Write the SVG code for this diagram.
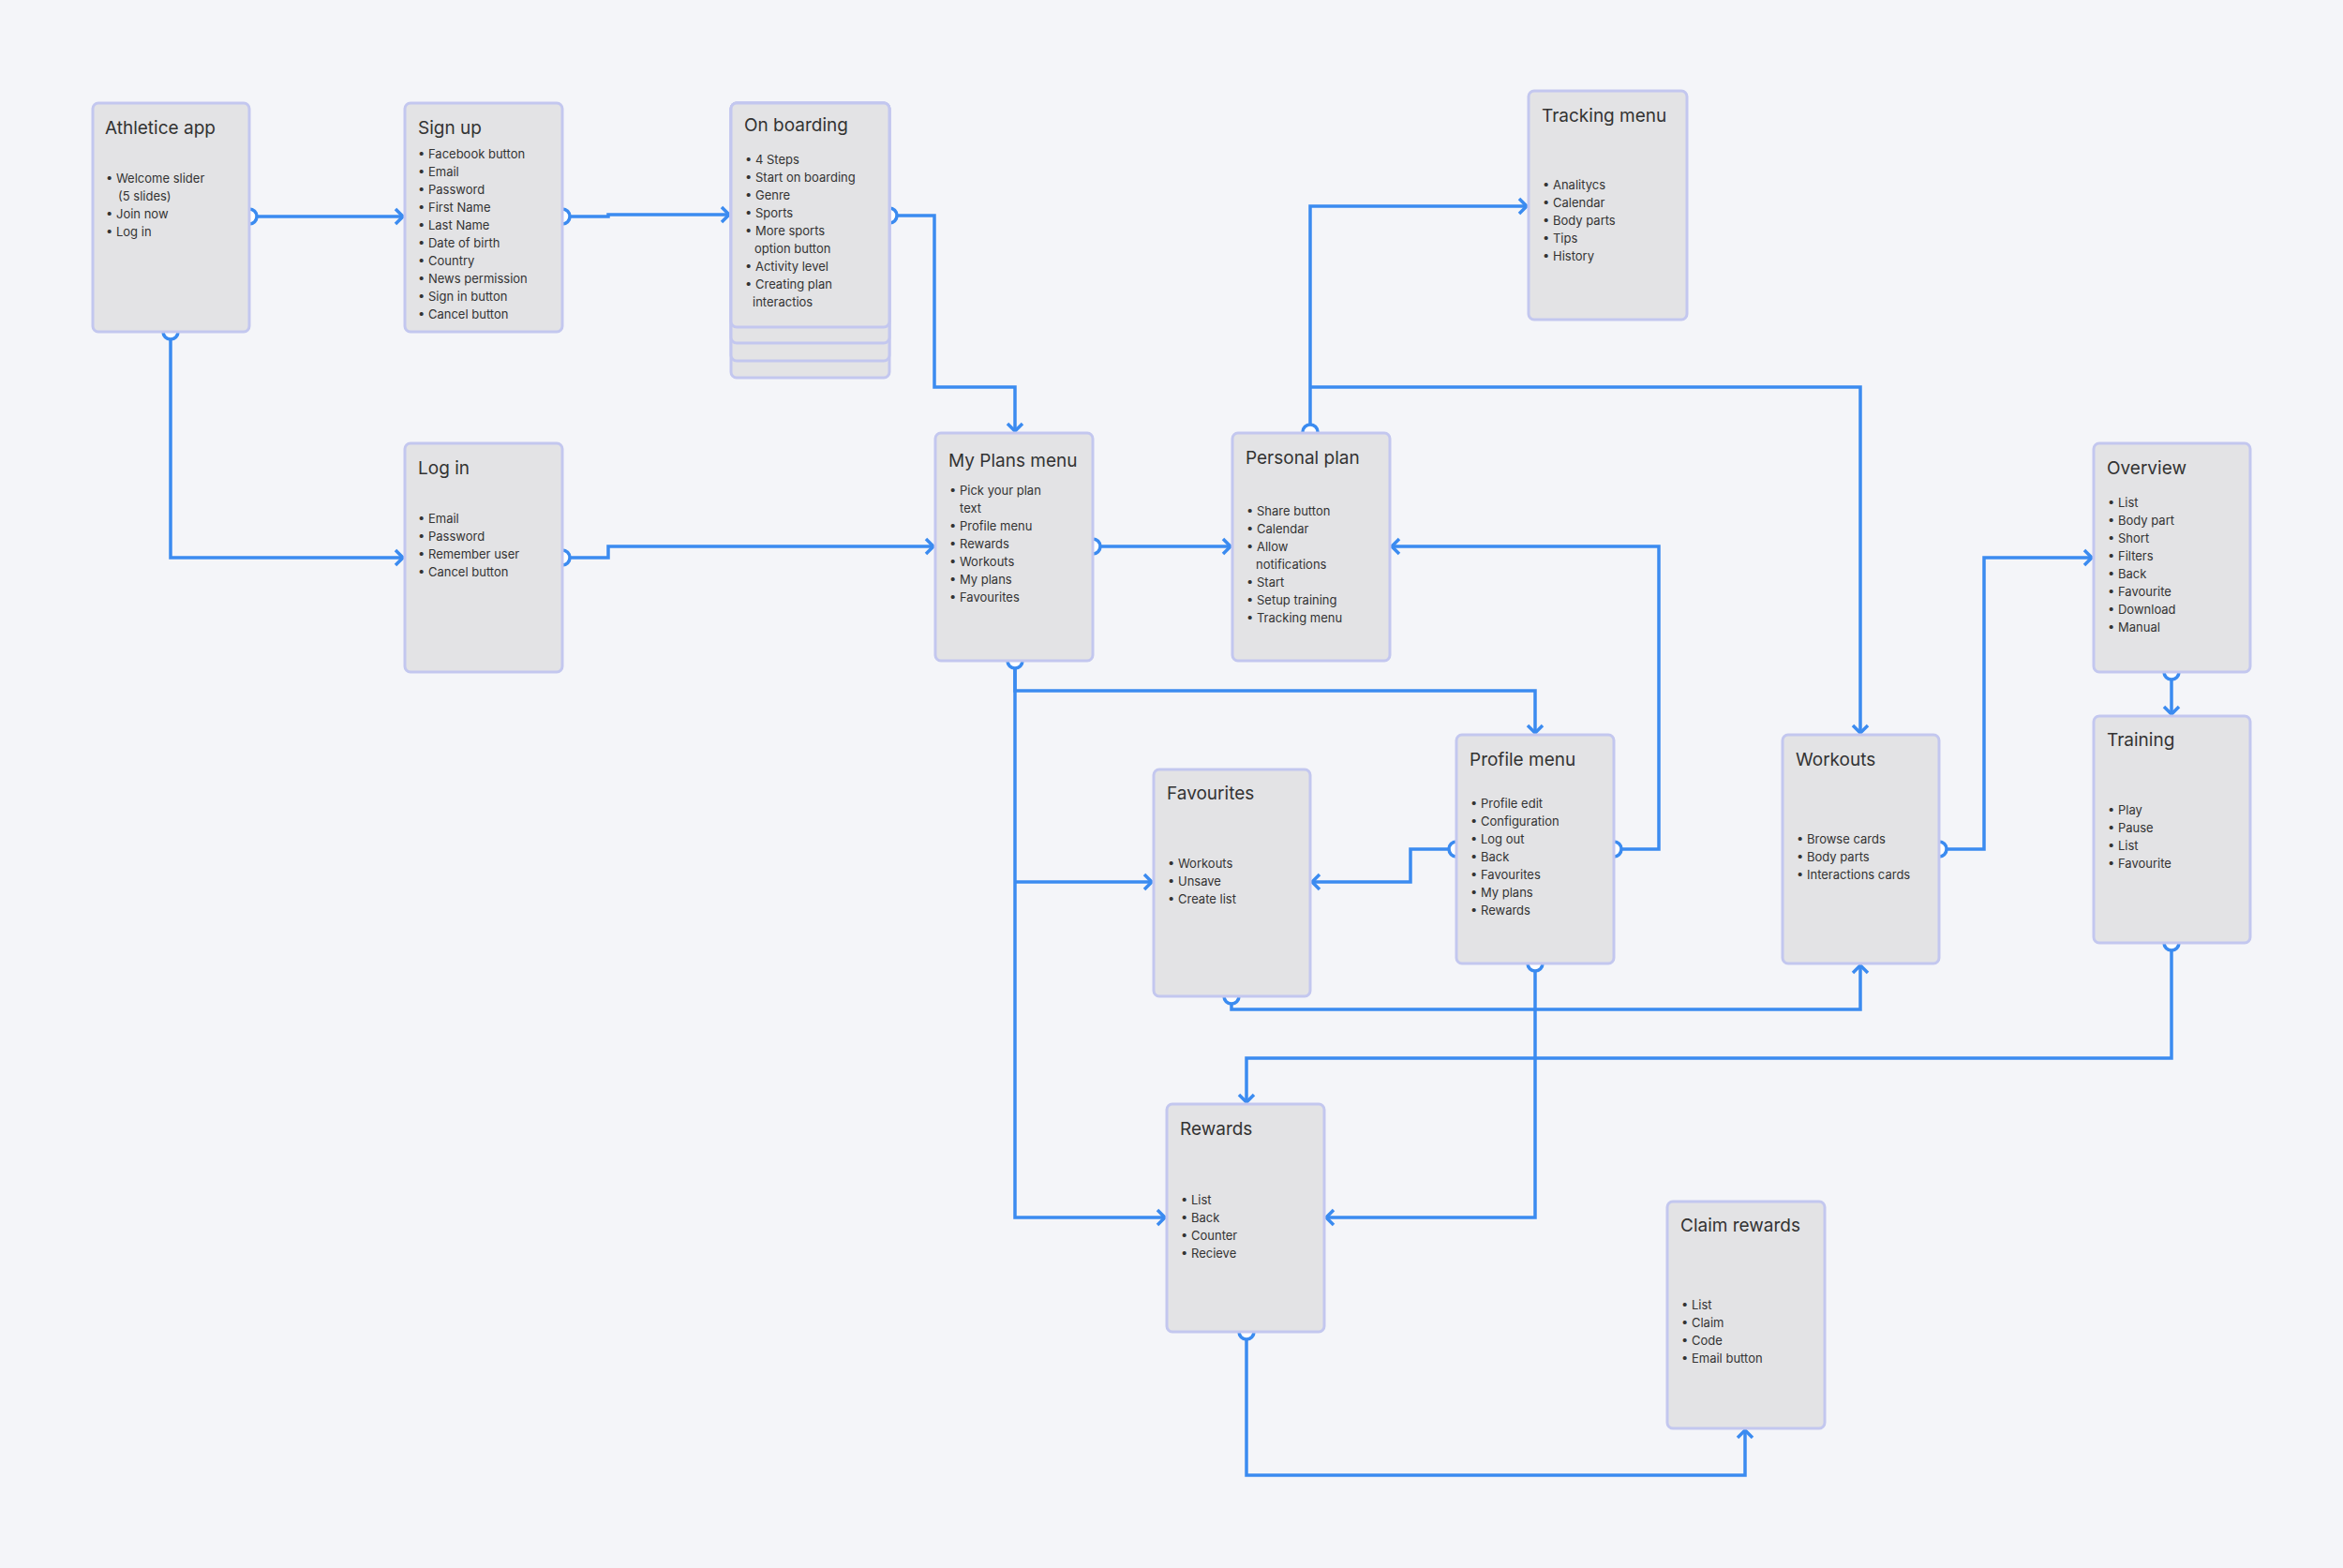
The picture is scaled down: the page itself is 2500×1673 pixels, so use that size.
<svg xmlns="http://www.w3.org/2000/svg" width="2500" height="1673" viewBox="0 0 2500 1673">
<defs>
<style>
.n{fill:#e3e3e5;stroke:#c3c7ef;stroke-width:3}
.t{font-family:Inter,"Liberation Sans",sans-serif;font-size:19px;fill:#333}
.i{font-family:Inter,"Liberation Sans",sans-serif;font-size:13px;fill:#333}
.c{fill:none;stroke:#3b8bf0;stroke-width:3.5;marker-end:url(#a)}
.p{fill:#fff;stroke:#3b8bf0;stroke-width:3.5}
</style>
<marker id="a" markerUnits="userSpaceOnUse" markerWidth="20" markerHeight="20" refX="12" refY="10" orient="auto"><path d="M4,2 L12,10 L4,18" fill="none" stroke="#3b8bf0" stroke-width="3.5"/></marker>
</defs>
<rect width="2500" height="1673" fill="#f4f5f9"/>
<g id="connectors">
<path class="c" d="M266,231 H430"/>
<path class="c" d="M600,231 H649 V229 H778"/>
<path class="c" d="M949,230 H997 V413 H1083 V460"/>
<path class="c" d="M182,354 V595 H430"/>
<path class="c" d="M600,595 H649 V583 H996"/>
<path class="c" d="M1166,583 H1313"/>
<path class="c" d="M1398,461 V220 H1629"/>
<path class="c" d="M1398,413 H1985 V782"/>
<path class="c" d="M1083,705 V737 H1638 V782"/>
<path class="c" d="M1083,705 V1299 H1243"/>
<path class="c" d="M1083,941 H1229"/>
<path class="c" d="M1554,906 H1505 V941 H1400"/>
<path class="c" d="M1722,906 H1770 V583 H1485"/>
<path class="c" d="M1638,1028 V1299 H1415"/>
<path class="c" d="M1314,1063 V1077 H1985 V1030"/>
<path class="c" d="M2069,906 H2117 V595 H2232"/>
<path class="c" d="M2317,717 V762"/>
<path class="c" d="M2317,1006 V1129 H1330 V1176"/>
<path class="c" d="M1330,1421 V1574 H1862 V1526"/>
<circle class="p" cx="266" cy="231" r="8"/>
<circle class="p" cx="600" cy="231" r="8"/>
<circle class="p" cx="949" cy="230" r="8"/>
<circle class="p" cx="182" cy="354" r="8"/>
<circle class="p" cx="600" cy="595" r="8"/>
<circle class="p" cx="1166" cy="583" r="8"/>
<circle class="p" cx="1398" cy="461" r="8"/>
<circle class="p" cx="1083" cy="705" r="8"/>
<circle class="p" cx="1554" cy="906" r="8"/>
<circle class="p" cx="1722" cy="906" r="8"/>
<circle class="p" cx="1638" cy="1028" r="8"/>
<circle class="p" cx="1314" cy="1063" r="8"/>
<circle class="p" cx="2069" cy="906" r="8"/>
<circle class="p" cx="2317" cy="717" r="8"/>
<circle class="p" cx="2317" cy="1006" r="8"/>
<circle class="p" cx="1330" cy="1421" r="8"/>
</g>
<g id="athletice-app"><rect class="n" x="99" y="110" width="167" height="244" rx="6"/>
<text class="t" x="112" y="143">Athletice app</text>
<text class="i" x="113" y="195"><tspan>• Welcome slider</tspan><tspan x="126" dy="19">(5 slides)</tspan><tspan x="113" dy="19">• Join now</tspan><tspan x="113" dy="19">• Log in</tspan></text></g>
<g id="sign-up"><rect class="n" x="432" y="110" width="168" height="244" rx="6"/>
<text class="t" x="446" y="143">Sign up</text>
<text class="i" x="446" y="169"><tspan>• Facebook button</tspan><tspan x="446" dy="19">• Email</tspan><tspan x="446" dy="19">• Password</tspan><tspan x="446" dy="19">• First Name</tspan><tspan x="446" dy="19">• Last Name</tspan><tspan x="446" dy="19">• Date of birth</tspan><tspan x="446" dy="19">• Country</tspan><tspan x="446" dy="19">• News permission</tspan><tspan x="446" dy="19">• Sign in button</tspan><tspan x="446" dy="19">• Cancel button</tspan></text></g>
<g id="on-boarding"><rect class="n" x="780" y="110" width="169" height="293" rx="6"/><rect class="n" x="780" y="110" width="169" height="275" rx="6"/><rect class="n" x="780" y="110" width="169" height="256" rx="6"/><rect class="n" x="780" y="110" width="169" height="239" rx="6"/>
<text class="t" x="794" y="140">On boarding</text>
<text class="i" x="795" y="175"><tspan>• 4 Steps</tspan><tspan x="795" dy="19">• Start on boarding</tspan><tspan x="795" dy="19">• Genre</tspan><tspan x="795" dy="19">• Sports</tspan><tspan x="795" dy="19">• More sports</tspan><tspan x="805" dy="19">option button</tspan><tspan x="795" dy="19">• Activity level</tspan><tspan x="795" dy="19">• Creating plan</tspan><tspan x="803" dy="19">interactios</tspan></text></g>
<g id="tracking-menu"><rect class="n" x="1631" y="97" width="169" height="244" rx="6"/>
<text class="t" x="1645" y="130">Tracking menu</text>
<text class="i" x="1646" y="202"><tspan>• Analitycs</tspan><tspan x="1646" dy="19">• Calendar</tspan><tspan x="1646" dy="19">• Body parts</tspan><tspan x="1646" dy="19">• Tips</tspan><tspan x="1646" dy="19">• History</tspan></text></g>
<g id="log-in"><rect class="n" x="432" y="473" width="168" height="244" rx="6"/>
<text class="t" x="446" y="506">Log in</text>
<text class="i" x="446" y="558"><tspan>• Email</tspan><tspan x="446" dy="19">• Password</tspan><tspan x="446" dy="19">• Remember user</tspan><tspan x="446" dy="19">• Cancel button</tspan></text></g>
<g id="my-plans-menu"><rect class="n" x="998" y="462" width="168" height="243" rx="6"/>
<text class="t" x="1012" y="498">My Plans menu</text>
<text class="i" x="1013" y="528"><tspan>• Pick your plan</tspan><tspan x="1024" dy="19">text</tspan><tspan x="1013" dy="19">• Profile menu</tspan><tspan x="1013" dy="19">• Rewards</tspan><tspan x="1013" dy="19">• Workouts</tspan><tspan x="1013" dy="19">• My plans</tspan><tspan x="1013" dy="19">• Favourites</tspan></text></g>
<g id="personal-plan"><rect class="n" x="1315" y="462" width="168" height="243" rx="6"/>
<text class="t" x="1329" y="495">Personal plan</text>
<text class="i" x="1330" y="550"><tspan>• Share button</tspan><tspan x="1330" dy="19">• Calendar</tspan><tspan x="1330" dy="19">• Allow</tspan><tspan x="1340" dy="19">notifications</tspan><tspan x="1330" dy="19">• Start</tspan><tspan x="1330" dy="19">• Setup training</tspan><tspan x="1330" dy="19">• Tracking menu</tspan></text></g>
<g id="overview"><rect class="n" x="2234" y="473" width="167" height="244" rx="6"/>
<text class="t" x="2248" y="506">Overview</text>
<text class="i" x="2249" y="541"><tspan>• List</tspan><tspan x="2249" dy="19">• Body part</tspan><tspan x="2249" dy="19">• Short</tspan><tspan x="2249" dy="19">• Filters</tspan><tspan x="2249" dy="19">• Back</tspan><tspan x="2249" dy="19">• Favourite</tspan><tspan x="2249" dy="19">• Download</tspan><tspan x="2249" dy="19">• Manual</tspan></text></g>
<g id="training"><rect class="n" x="2234" y="764" width="167" height="242" rx="6"/>
<text class="t" x="2248" y="796">Training</text>
<text class="i" x="2249" y="869"><tspan>• Play</tspan><tspan x="2249" dy="19">• Pause</tspan><tspan x="2249" dy="19">• List</tspan><tspan x="2249" dy="19">• Favourite</tspan></text></g>
<g id="favourites"><rect class="n" x="1231" y="821" width="167" height="242" rx="6"/>
<text class="t" x="1245" y="853">Favourites</text>
<text class="i" x="1246" y="926"><tspan>• Workouts</tspan><tspan x="1246" dy="19">• Unsave</tspan><tspan x="1246" dy="19">• Create list</tspan></text></g>
<g id="profile-menu"><rect class="n" x="1554" y="784" width="168" height="244" rx="6"/>
<text class="t" x="1568" y="817">Profile menu</text>
<text class="i" x="1569" y="862"><tspan>• Profile edit</tspan><tspan x="1569" dy="19">• Configuration</tspan><tspan x="1569" dy="19">• Log out</tspan><tspan x="1569" dy="19">• Back</tspan><tspan x="1569" dy="19">• Favourites</tspan><tspan x="1569" dy="19">• My plans</tspan><tspan x="1569" dy="19">• Rewards</tspan></text></g>
<g id="workouts"><rect class="n" x="1902" y="784" width="167" height="244" rx="6"/>
<text class="t" x="1916" y="817">Workouts</text>
<text class="i" x="1917" y="900"><tspan>• Browse cards</tspan><tspan x="1917" dy="19">• Body parts</tspan><tspan x="1917" dy="19">• Interactions cards</tspan></text></g>
<g id="rewards"><rect class="n" x="1245" y="1178" width="168" height="243" rx="6"/>
<text class="t" x="1259" y="1211">Rewards</text>
<text class="i" x="1260" y="1285"><tspan>• List</tspan><tspan x="1260" dy="19">• Back</tspan><tspan x="1260" dy="19">• Counter</tspan><tspan x="1260" dy="19">• Recieve</tspan></text></g>
<g id="claim-rewards"><rect class="n" x="1779" y="1282" width="168" height="242" rx="6"/>
<text class="t" x="1793" y="1314">Claim rewards</text>
<text class="i" x="1794" y="1397"><tspan>• List</tspan><tspan x="1794" dy="19">• Claim</tspan><tspan x="1794" dy="19">• Code</tspan><tspan x="1794" dy="19">• Email button</tspan></text></g>
</svg>
